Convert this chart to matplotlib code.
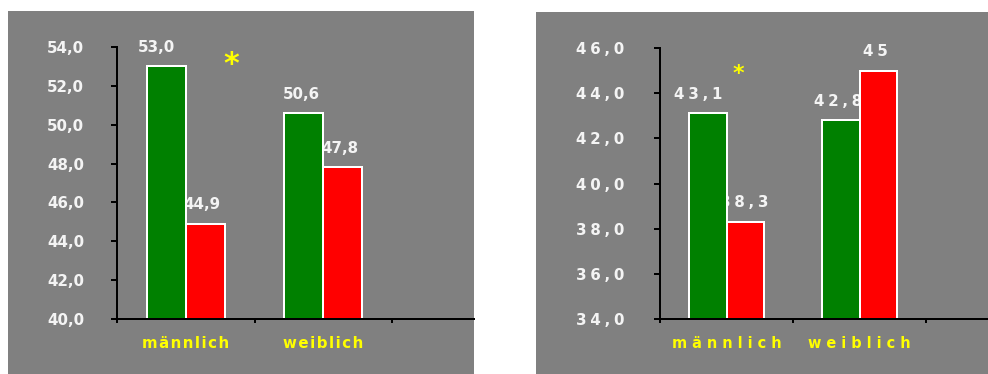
import matplotlib
matplotlib.use("Agg")
import matplotlib.pyplot as plt
from matplotlib.patches import Rectangle

# ---- data -------------------------------------------------------------
categories = ["männlich", "weiblich"]

left_green = [53.0, 50.6]
left_red = [44.9, 47.8]
left_green_labels = ["53,0", "50,6"]
left_red_labels = ["44,9", "47,8"]
left_yticks = [40, 42, 44, 46, 48, 50, 52, 54]

right_green = [43.1, 42.8]
right_red = [38.3, 45.0]
right_green_labels = ["43,1", "42,8"]
right_red_labels = ["38,3", "45"]
right_yticks = [34, 36, 38, 40, 42, 44, 46]

# ---- style ------------------------------------------------------------
W, H, DPI = 988, 374, 100
GRAY = "#808080"
GREEN = "#008000"
RED = "#FF0000"
YELLOW = "#FFFF00"
TEXT = "#F4F4F4"
PX = 72.0 / DPI  # points per pixel

plt.rcParams["font.family"] = ["DejaVu Sans"]
plt.rcParams["font.weight"] = "bold"

fig = plt.figure(figsize=(W / DPI, H / DPI), dpi=DPI, facecolor="white")


def px_rect(x0, y0_top, x1, y1_top):
    """Figure-fraction rectangle from pixel coords measured from top-left."""
    return (x0 / W, (H - y1_top) / H, (x1 - x0) / W, (y1_top - y0_top) / H)


def spaced(text, sep):
    return sep.join(text) if sep else text


def panel(rect_bg, rect_ax, slot_px, green, red, glabels, rlabels, yticks,
          num_sep, cat_sep, fs, cat_fs, ypad, label_dx, star_xy, star_fs):
    bx, by, bw, bh = px_rect(*rect_bg)
    fig.patches.append(Rectangle((bx, by), bw, bh, transform=fig.transFigure,
                                 facecolor=GRAY, edgecolor="none", zorder=-5))
    ax = fig.add_axes(px_rect(*rect_ax))
    ax.set_facecolor("none")
    ax.set_zorder(1)

    w = 0.285
    xs = list(range(len(categories)))
    ax.bar([x - w / 2 for x in xs], green, width=w, bottom=0,
           color=GREEN, edgecolor="white", linewidth=2 * PX, zorder=2)
    ax.bar([x + w / 2 for x in xs], red, width=w, bottom=0,
           color=RED, edgecolor="white", linewidth=2 * PX, zorder=2)

    # value labels (sit behind the bars)
    for i, x in enumerate(xs):
        for dx, v, lab, off in ((-w / 2, green[i], glabels[i], label_dx[0][i]),
                                (w / 2, red[i], rlabels[i], label_dx[1][i])):
            ax.annotate(spaced(lab, num_sep), xy=(x + dx, v),
                        xytext=(off * PX, 14.5 * PX), textcoords="offset points",
                        ha="center", va="baseline", color=TEXT,
                        fontsize=fs, fontweight="bold", zorder=1,
                        annotation_clip=False)

    # significance marker
    ax.text(star_xy[0], star_xy[1], "*", color=YELLOW, fontsize=star_fs,
            fontweight="bold", ha="center", va="baseline", zorder=3)

    # axes
    for s in ("top", "right"):
        ax.spines[s].set_visible(False)
    for s in ("left", "bottom"):
        ax.spines[s].set_color("black")
        ax.spines[s].set_linewidth(2 * PX)
        ax.spines[s].set_zorder(4)

    ax.set_yticks(yticks)
    ax.set_yticklabels([spaced(f"{t:.1f}".replace(".", ","), num_sep)
                        for t in yticks])
    ax.tick_params(axis="y", direction="out", length=6 * PX, width=2 * PX,
                   color="black", labelcolor=TEXT, labelsize=fs,
                   pad=ypad * PX)

    ax.set_xticks([-0.5 + k for k in range(len(categories) + 2)])
    ax.set_xticklabels([])
    ax.tick_params(axis="x", which="major", direction="out", length=4 * PX,
                   width=2 * PX, color="black")
    ax.set_xticks(xs, minor=True)
    ax.set_xticklabels([spaced(c, cat_sep) for c in categories], minor=True)
    ax.tick_params(axis="x", which="minor", length=0, pad=17 * PX,
                   labelcolor=YELLOW, labelsize=cat_fs)
    for t in ax.get_xticklabels(minor=True) + ax.get_yticklabels():
        t.set_fontweight("bold")

    # limits last, so the boundary ticks do not widen the view
    ax_w = rect_ax[2] - rect_ax[0]
    ax.set_xlim(-0.5, -0.5 + ax_w / slot_px)
    ax.set_ylim(yticks[0], yticks[-1])
    return ax


# left panel
panel(rect_bg=(8, 11, 474, 374), rect_ax=(117, 47, 474, 319), slot_px=137.5,
      green=left_green, red=left_red, glabels=left_green_labels,
      rlabels=left_red_labels, yticks=left_yticks,
      num_sep="", cat_sep="\u200a",
      fs=15 * PX, cat_fs=15 * PX, ypad=27,
      label_dx=([-9.5, -2.5], [-3, -2.5]),
      star_xy=(0.333, 52.65), star_fs=30 * PX)

# right panel
panel(rect_bg=(536, 12, 988, 374), rect_ax=(660, 48, 988, 319), slot_px=133,
      green=right_green, red=right_red, glabels=right_green_labels,
      rlabels=right_red_labels, yticks=right_yticks,
      num_sep="\u2005", cat_sep=" ",
      fs=15 * PX, cat_fs=14.5 * PX, ypad=30,
      label_dx=([-9, -2.5], [-1, -3]),
      star_xy=(0.086, 44.58), star_fs=22 * PX)

fig.savefig("out.png", dpi=DPI, facecolor="white")
